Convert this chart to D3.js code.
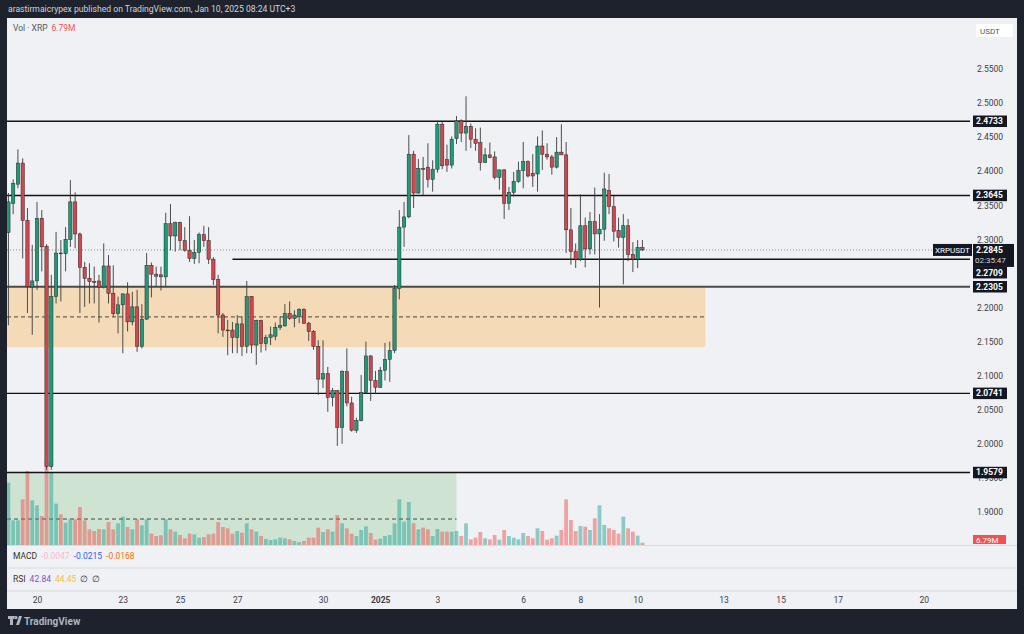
<!DOCTYPE html>
<html>
<head>
<meta charset="utf-8">
<script src="https://cdn.jsdelivr.net/npm/d3@7"></script>
<style>
  html, body { margin: 0; padding: 0; background: #1e222d; }
  svg { display: block; font-family: Roboto, "Liberation Sans", sans-serif; }
</style>
</head>
<body>
<svg id="chart" width="1024" height="634"></svg>
<script>
'use strict';

// XRPUSDT 4h candles, first bar Dec 19 03:00 (UTC+3)
const opens = [2.310,2.353,2.381,2.412,2.328,2.230,2.239,2.331,2.290,1.967,
  2.216,2.280,2.279,2.300,2.355,2.308,2.259,2.243,2.238,2.239,
  2.230,2.261,2.221,2.191,2.204,2.220,2.179,2.201,2.143,2.183,
  2.262,2.249,2.248,2.245,2.323,2.305,2.325,2.298,2.284,2.272,
  2.281,2.307,2.298,2.271,2.241,2.189,2.167,2.167,2.156,2.176,
  2.143,2.216,2.145,2.181,2.147,2.156,2.158,2.171,2.173,2.191,
  2.184,2.187,2.197,2.177,2.165,2.143,2.095,2.103,2.068,2.078,
  2.024,2.106,2.060,2.020,2.034,2.075,2.129,2.093,2.083,2.108,
  2.124,2.137,2.228,2.318,2.333,2.425,2.368,2.404,2.406,2.388,
  2.403,2.469,2.417,2.409,2.448,2.474,2.456,2.466,2.447,2.442,
  2.413,2.424,2.421,2.391,2.402,2.353,2.369,2.385,2.401,2.414,
  2.397,2.396,2.437,2.425,2.421,2.406,2.428,2.424,2.314,2.282,
  2.271,2.320,2.286,2.326,2.308,2.315,2.372,2.348,2.313,2.303,
  2.320,2.278,2.271,2.288];
const highs = [2.368,2.388,2.432,2.419,2.346,2.292,2.355,2.343,2.293,2.248,
  2.311,2.299,2.318,2.387,2.369,2.310,2.267,2.265,2.260,2.248,
  2.294,2.277,2.262,2.216,2.221,2.237,2.223,2.226,2.205,2.280,
  2.266,2.260,2.260,2.339,2.352,2.326,2.326,2.318,2.334,2.299,
  2.310,2.320,2.318,2.274,2.248,2.192,2.182,2.179,2.189,2.187,
  2.239,2.217,2.182,2.182,2.160,2.172,2.178,2.187,2.205,2.209,
  2.196,2.199,2.199,2.179,2.167,2.152,2.152,2.113,2.082,2.079,
  2.108,2.140,2.069,2.038,2.101,2.150,2.130,2.107,2.113,2.148,
  2.150,2.233,2.343,2.355,2.453,2.430,2.418,2.421,2.441,2.416,
  2.474,2.473,2.439,2.451,2.481,2.476,2.510,2.470,2.463,2.464,
  2.434,2.442,2.429,2.402,2.403,2.377,2.399,2.414,2.443,2.416,
  2.425,2.451,2.460,2.441,2.424,2.450,2.469,2.443,2.346,2.294,
  2.366,2.332,2.340,2.376,2.337,2.398,2.396,2.364,2.332,2.337,
  2.330,2.296,2.299,2.299];
const lows = [2.174,2.337,2.375,2.272,2.192,2.160,2.226,2.253,1.962,1.962,
  2.206,2.209,2.253,2.289,2.287,2.192,2.201,2.206,2.206,2.178,
  2.228,2.206,2.187,2.162,2.133,2.165,2.174,2.135,2.140,2.182,
  2.215,2.231,2.225,2.231,2.284,2.282,2.284,2.282,2.267,2.264,
  2.265,2.289,2.264,2.233,2.162,2.157,2.130,2.133,2.133,2.129,
  2.133,2.133,2.116,2.134,2.137,2.145,2.152,2.167,2.172,2.182,
  2.171,2.177,2.176,2.151,2.138,2.072,2.082,2.047,2.055,1.997,
  2.000,2.055,2.018,2.016,2.033,2.073,2.063,2.074,2.082,2.093,
  2.091,2.133,2.212,2.289,2.331,2.346,2.367,2.365,2.376,2.370,
  2.398,2.403,2.399,2.404,2.440,2.443,2.430,2.434,2.430,2.401,
  2.412,2.419,2.388,2.373,2.330,2.343,2.363,2.383,2.375,2.391,
  2.377,2.370,2.402,2.417,2.395,2.404,2.424,2.280,2.263,2.258,
  2.268,2.259,2.278,2.278,2.200,2.298,2.337,2.297,2.288,2.234,
  2.268,2.252,2.258,2.283];
const closes = [2.355,2.382,2.412,2.328,2.231,2.239,2.331,2.289,1.967,2.216,
  2.280,2.279,2.300,2.355,2.308,2.259,2.243,2.238,2.2375,2.230,
  2.261,2.221,2.191,2.204,2.220,2.179,2.201,2.143,2.183,2.262,
  2.249,2.246,2.245,2.323,2.305,2.325,2.298,2.284,2.272,2.281,
  2.307,2.298,2.271,2.241,2.189,2.167,2.1665,2.156,2.176,2.143,
  2.216,2.145,2.181,2.147,2.156,2.160,2.171,2.174,2.191,2.184,
  2.189,2.197,2.177,2.165,2.143,2.095,2.103,2.068,2.078,2.024,
  2.106,2.060,2.020,2.034,2.075,2.129,2.093,2.083,2.108,2.124,
  2.137,2.228,2.318,2.333,2.425,2.368,2.404,2.4035,2.388,2.403,
  2.469,2.408,2.409,2.447,2.474,2.456,2.466,2.447,2.441,2.413,
  2.424,2.420,2.391,2.402,2.353,2.369,2.385,2.401,2.414,2.393,
  2.393,2.437,2.425,2.421,2.406,2.428,2.424,2.314,2.282,2.271,
  2.320,2.286,2.326,2.308,2.315,2.374,2.348,2.312,2.303,2.320,
  2.278,2.271,2.288,2.2845];
// volume, millions of XRP
const volumes = [187,74,74,137,222,134,119,87,250,217,
  124,92,67,77,77,114,74,47,42,48,
  47,69,47,65,85,54,47,77,59,77,
  34,27,29,77,47,40,30,20,34,32,
  22,24,32,34,69,54,50,34,42,37,
  65,47,40,27,18,15,17,22,20,17,
  12,9,12,22,22,52,39,47,40,90,
  65,50,34,27,45,56,36,16,19,27,
  30,65,137,70,129,65,47,52,47,27,
  48,40,40,40,42,27,65,17,22,39,
  20,17,30,16,45,27,22,17,36,27,
  20,50,42,16,20,28,45,137,75,42,
  57,55,45,80,119,60,50,45,34,85,
  50,40,28,6.79];

const levels = [2.4733, 2.3645, 2.2709, 2.2305, 2.0741, 1.9579];
const levelStartBar = [0, 0, 47, 0, 0, 0];
const lastPrice = 2.2845;
const countdown = '02:35:47';
const zoneOrange = [2.2305, 2.142];   // top, bottom
const zoneGreen = [1.9579, 1.8215];
const zoneOrangeEndBar = 146.2;
const zoneGreenEndBar = 94;

const priceTicks = [2.55, 2.50, 2.45, 2.40, 2.35, 2.30, 2.25, 2.20, 2.15, 2.10, 2.05, 2.00, 1.95, 1.90];
const dayTicks = ['2024-12-20', '2024-12-23', '2024-12-25', '2024-12-27', '2024-12-30', '2025-01-01',
  '2025-01-03', '2025-01-06', '2025-01-08', '2025-01-10', '2025-01-13', '2025-01-15', '2025-01-17', '2025-01-20'];

const HOUR = 3600 * 1000;
const t0 = Date.UTC(2024, 11, 19, 3);
const barTime = i => new Date(t0 + i * 4 * HOUR);

const bars = opens.map((o, i) => ({
    t: barTime(i), o, h: highs[i], l: lows[i], c: closes[i], v: volumes[i]
}));

const svg = d3.select('#chart');
const W = 1024, H = 634;
const pane = { left: 7, right: 970, top: 18, bottom: 545 };

svg.append('rect').attr('width', W).attr('height', H).attr('fill', '#1e222d');
svg.append('text').attr('x', 8).attr('y', 12)
   .attr('fill', '#d1d4dc').attr('font-size', 8.6)
   .text('arastirmaicrypex published on TradingView.com, Jan 10, 2025 08:24 UTC+3');
svg.append('rect').attr('x', 7).attr('y', 18).attr('width', 1010).attr('height', 591).attr('fill', '#f0f1f4');

const step = 4.767;
const x = d3.scaleUtc()
            .domain([barTime(0), barTime(192)])
            .range([8.4, 8.4 + 192 * step]);
const y = d3.scaleLinear().domain([1.90, 2.55]).range([512, 69]);
const yVol = d3.scaleLinear().domain([0, 300]).range([pane.bottom, pane.bottom - 100]);
const xBar = i => x(barTime(i));

svg.append('clipPath').attr('id', 'clip')
   .append('rect').attr('x', pane.left).attr('y', pane.top)
   .attr('width', pane.right - pane.left).attr('height', pane.bottom - pane.top);
const g = svg.append('g').attr('clip-path', 'url(#clip)');

// zones
function zone(range, endBar, fill) {
    g.append('rect').attr('x', pane.left).attr('y', y(range[0]))
     .attr('width', xBar(endBar) - pane.left).attr('height', y(range[1]) - y(range[0]))
     .attr('fill', fill);
    g.append('line').attr('x1', pane.left).attr('x2', xBar(endBar))
     .attr('y1', y((range[0] + range[1]) / 2)).attr('y2', y((range[0] + range[1]) / 2))
     .attr('stroke', '#333').attr('stroke-width', 0.9).attr('stroke-dasharray', '4,3');
}
zone(zoneOrange, zoneOrangeEndBar, 'rgba(255,152,0,0.25)');
zone(zoneGreen, zoneGreenEndBar, 'rgba(76,175,80,0.2)');

// volume
const bw = step * 0.8;
g.selectAll('.vol').data(bars).enter().append('rect')
 .attr('x', d => x(d.t) - bw / 2).attr('width', bw)
 .attr('y', d => yVol(d.v)).attr('height', d => yVol(0) - yVol(d.v))
 .attr('fill', d => d.c >= d.o ? 'rgba(38,166,154,0.5)' : 'rgba(239,83,80,0.5)');

// horizontal levels
levels.forEach((p, i) => {
    g.append('line').attr('x1', i === 0 ? pane.left : xBar(levelStartBar[i]) - (levelStartBar[i] ? 0 : 2))
     .attr('x2', pane.right + 5).attr('y1', y(p)).attr('y2', y(p))
     .attr('stroke', p === 2.2305 ? '#4a4a4a' : '#131313')
     .attr('stroke-width', p === 2.2305 ? 2 : 1.4);
});
g.append('line').attr('x1', pane.left).attr('x2', 935)
 .attr('y1', y(lastPrice)).attr('y2', y(lastPrice))
 .attr('stroke', '#777').attr('stroke-width', 0.8).attr('stroke-dasharray', '1,2');

// candles
const cw = step * 0.7;
const candles = g.selectAll('.candle').data(bars).enter().append('g');
candles.append('line')
       .attr('x1', d => x(d.t)).attr('x2', d => x(d.t))
       .attr('y1', d => y(d.h)).attr('y2', d => y(d.l))
       .attr('stroke', '#3a3a3a').attr('stroke-width', 0.9);
candles.append('rect')
       .attr('x', d => x(d.t) - cw / 2).attr('width', cw)
       .attr('y', d => y(Math.max(d.o, d.c)))
       .attr('height', d => Math.max(0.8, Math.abs(y(d.o) - y(d.c))))
       .attr('fill', d => d.c >= d.o ? '#1f9a78' : '#d2474f')
       .attr('stroke', '#262626').attr('stroke-width', 0.5);

// pane separators
[545.5, 568, 591].forEach(sy => {
    svg.append('line').attr('x1', 7).attr('x2', 1017).attr('y1', sy).attr('y2', sy)
       .attr('stroke', '#d9dbe0').attr('stroke-width', 1);
});

// price axis
const yAxis = d3.axisRight(y).tickValues(priceTicks).tickSize(0).tickPadding(0)
                .tickFormat(d3.format('.4f'));
svg.append('g').attr('transform', 'translate(977,0)').call(yAxis)
   .call(a => a.select('.domain').remove())
   .selectAll('text').attr('fill', '#3a3d45').attr('font-size', 8.5)
   .attr('font-family', 'Roboto, sans-serif');

svg.append('rect').attr('x', 976).attr('y', 24).attr('width', 37).attr('height', 13).attr('fill', '#fff');
svg.append('text').attr('x', 980).attr('y', 33.5).attr('fill', '#555').attr('font-size', 8).text('USDT');

// badges with simple collision push
const badges = [{ p: lastPrice, h: 23, cur: true }].concat(levels.map(p => ({ p, h: 11.5 })))
               .sort((a, b) => d3.descending(a.p, b.p));
let prevBottom = -Infinity;
badges.forEach(b => {
    let top = y(b.p) - (b.cur ? 6 : b.h / 2);
    if (top < prevBottom) top = prevBottom;
    b.top = top;
    prevBottom = top + b.h;
});
badges.forEach(b => {
    const w = b.cur ? 41 : 34;
    svg.append('rect').attr('x', 973).attr('y', b.top).attr('width', w).attr('height', b.h).attr('fill', '#131722');
    svg.append('text').attr('x', 976).attr('y', b.top + 8.7).attr('fill', '#fff')
       .attr('font-size', 8.5).attr('font-weight', 'bold').text(b.p.toFixed(4));
    if (b.cur) {
        svg.append('text').attr('x', 975).attr('y', b.top + 19.5).attr('fill', '#d1d4dc')
           .attr('font-size', 8).text(countdown);
        svg.append('rect').attr('x', 933).attr('y', b.top).attr('width', 39).attr('height', 12).attr('fill', '#131722');
        svg.append('text').attr('x', 935).attr('y', b.top + 8.9).attr('fill', '#fff')
           .attr('font-size', 8).text('XRPUSDT');
    }
});

// volume badge
svg.append('rect').attr('x', 973).attr('y', 535).attr('width', 33).attr('height', 9).attr('fill', '#ef5350');
svg.append('text').attr('x', 976).attr('y', 542.5).attr('fill', '#fff').attr('font-size', 8).text('6.79M');

// time axis
const tickDates = dayTicks.map(s => new Date(Date.parse(s + 'T03:00:00Z')));
const xAxis = d3.axisBottom(x).tickValues(tickDates).tickSize(0).tickPadding(6)
                .tickFormat(d => d.getUTCMonth() === 0 && d.getUTCDate() === 1 ? '2025' : String(d.getUTCDate()));
svg.append('g').attr('transform', 'translate(0,591)').call(xAxis)
   .call(a => a.select('.domain').remove())
   .selectAll('text').attr('fill', '#3a3d45').attr('font-size', 8.5)
   .attr('font-family', 'Roboto, sans-serif')
   .attr('font-weight', d => d.getUTCDate() === 1 ? 'bold' : null);

// legends
const legend = (yy, parts) => {
    const t = svg.append('text').attr('x', 13).attr('y', yy).attr('font-size', 8.5);
    parts.forEach(([s, c], i) => t.append('tspan').attr('fill', c).attr('dx', i ? 4 : 0).text(s));
};
legend(31, [['Vol · XRP', '#555'], ['6.79M', '#ef5350']]);
legend(558.5, [['MACD', '#333'], ['-0.0047', '#f8bbd0'], ['-0.0215', '#2962ff'], ['-0.0168', '#ff6d00']]);
legend(581.5, [['RSI', '#333'], ['42.84', '#7e57c2'], ['44.45', '#fbc02d'], ['∅', '#333'], ['∅', '#333']]);

// footer logo
svg.append('path').attr('d', 'M8 616h7v3h-2v6h-3v-6h-2z M16 616a1.6 1.6 0 1 0 0.01 0z M19 616h3l-3 9h-3z')
   .attr('fill', '#b2b5be');
svg.append('text').attr('x', 24).attr('y', 625).attr('fill', '#b2b5be').attr('font-size', 10)
   .attr('font-weight', 'bold').text('TradingView');
</script>
</body>
</html>
